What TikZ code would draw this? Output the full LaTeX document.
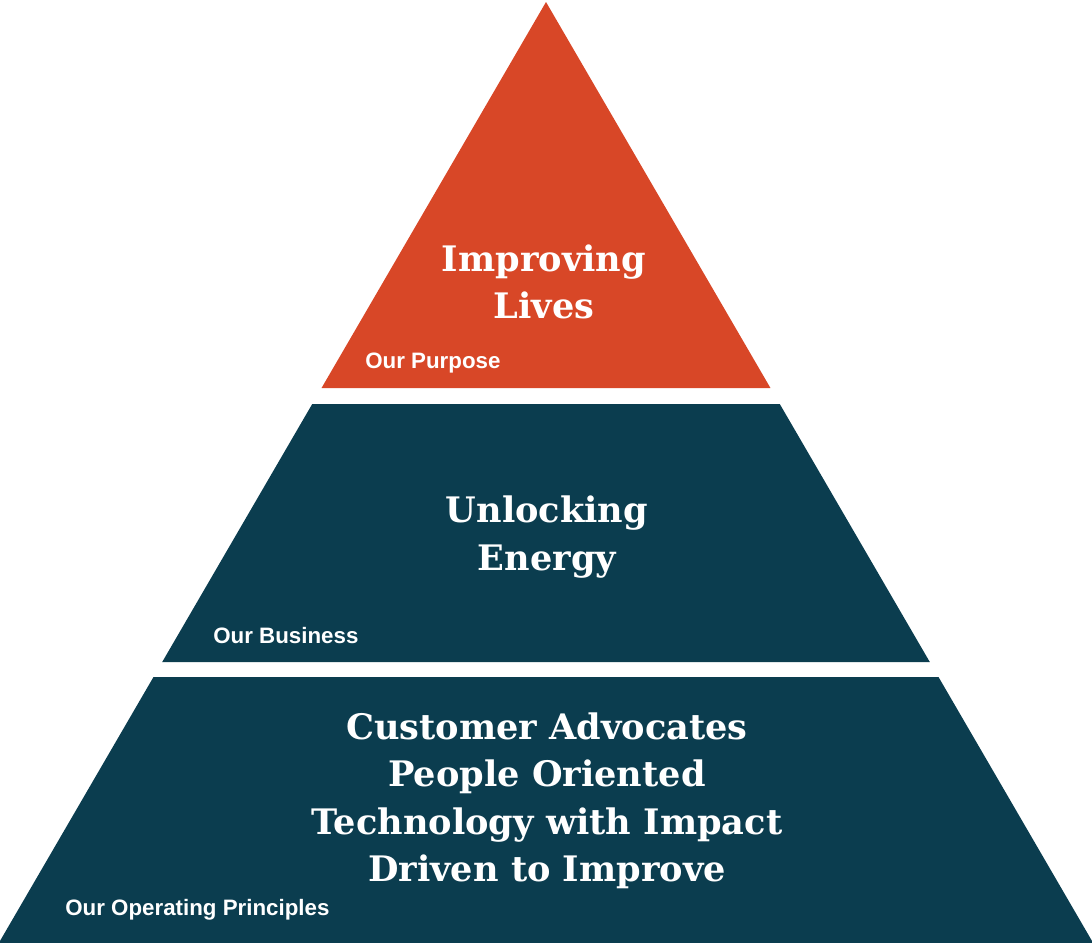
\documentclass[tikz,border=0pt]{standalone}
\usepackage{fontspec}
\setmainfont{DejaVu Serif}
\newfontfamily\labelfont{Liberation Sans}
\usepackage{tikz}
\definecolor{purposered}{HTML}{D84727}
\definecolor{layerteal}{HTML}{0B3D4F}
\def\slopeedge{0.5815}
\def\layer[#1](#2:#3){\fill[#1] ({546-\slopeedge*(#2-2)},#2) -- ({546+\slopeedge*(#2-2)},#2) -- ({546+\slopeedge*(#3-2)},#3) -- ({546-\slopeedge*(#3-2)},#3) -- cycle;}

\begin{document}
\begin{tikzpicture}[x=0.02cm, y=-0.02cm,
	headline/.style={text=white, align=center, font=\fontsize{20}{27}\selectfont\bfseries},
	layerlabel/.style={text=white, anchor=west, inner sep=0pt, font=\labelfont\fontsize{12.7}{15}\selectfont\bfseries}]
			%%%%% START %%%%%
			
			\useasboundingbox (0, 0) rectangle (1092, 943);
			
			\layer[purposered](2:388)
			\layer[layerteal](404:662)
			\layer[layerteal](677:943)
			
			\node[headline] (purpose) at (544, 282) {Improving\\Lives};
			\node[layerlabel] (purposelbl) at (365, 363) {Our Purpose};
			
			\node[headline] (business) at (547, 537) {Unlocking\\Energy};
			\node[layerlabel] (businesslbl) at (213, 636) {Our Business};
			
			\node[headline] (principles) at (547, 801) {Customer Advocates\\People Oriented\\Technology with Impact\\Driven to Improve};
			\node[layerlabel] (principleslbl) at (65, 910) {Our Operating Principles};
			
			%%%%% END %%%%%
		\end{tikzpicture}
\end{document}
